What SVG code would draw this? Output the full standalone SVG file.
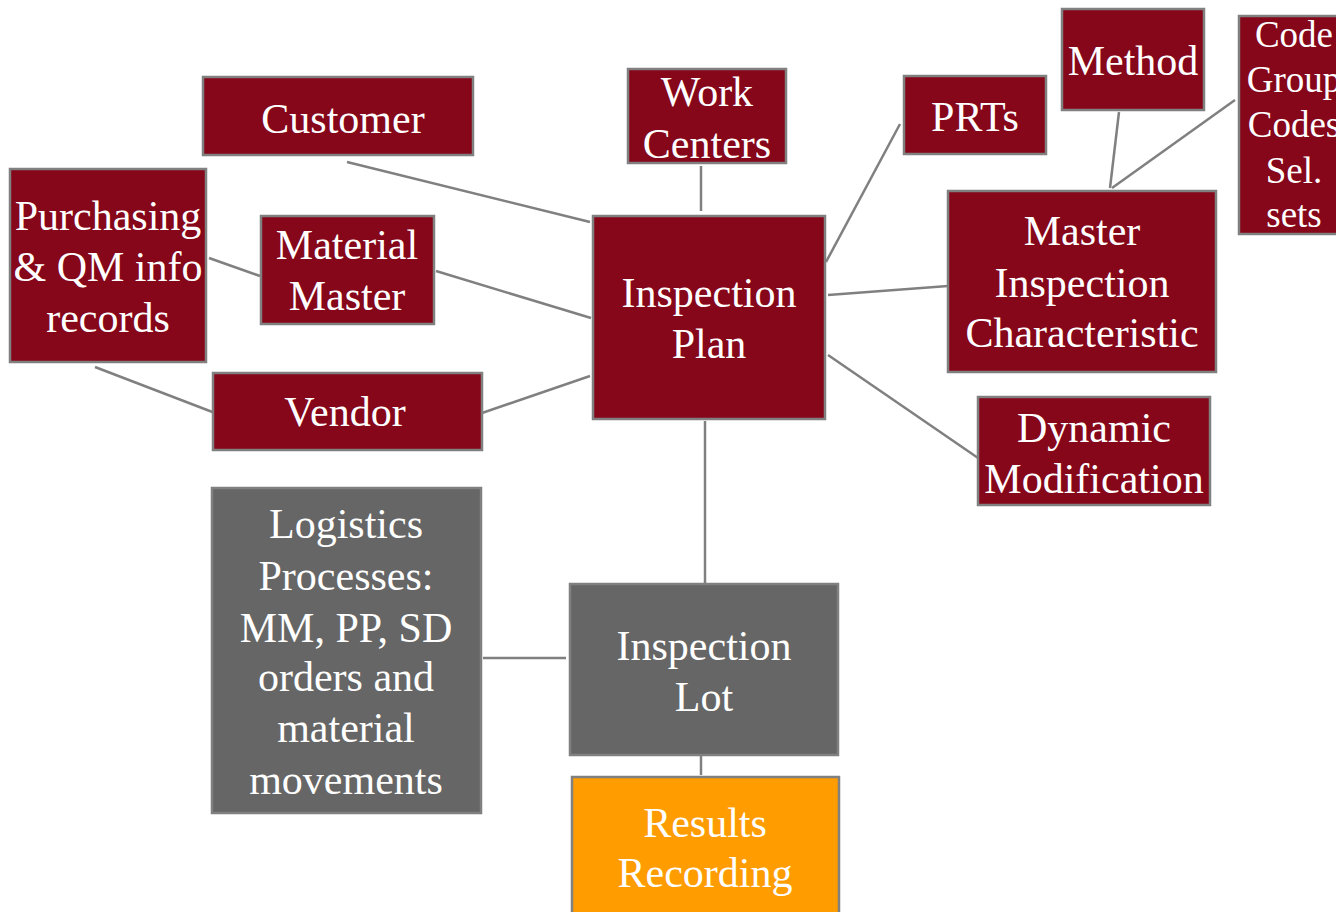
<svg xmlns="http://www.w3.org/2000/svg" width="1336" height="912" viewBox="0 0 1336 912">
<style>
.red{fill:#86061A;stroke:#808080;stroke-width:2.5}
.gray{fill:#666666;stroke:#808080;stroke-width:2.5}
.orange{fill:#FF9C00;stroke:#808080;stroke-width:2.5}
text{font-size:42px;fill:#FFFFFF;text-anchor:middle}
.sm{font-size:37px}
#connectors line{stroke:#808080;stroke-width:2.5}
</style>
<rect width="1336" height="912" fill="#FFFFFF"/>
<g id="connectors">
<line x1="347" y1="162" x2="590" y2="222"/>
<line x1="701" y1="166" x2="701" y2="211"/>
<line x1="436" y1="271" x2="591" y2="318"/>
<line x1="209" y1="258" x2="260" y2="276"/>
<line x1="95" y1="367" x2="215" y2="413"/>
<line x1="482" y1="413" x2="590" y2="376"/>
<line x1="900" y1="124" x2="826" y2="262"/>
<line x1="828" y1="295" x2="948" y2="286"/>
<line x1="828" y1="355" x2="981" y2="460"/>
<line x1="1119" y1="112" x2="1110" y2="188"/>
<line x1="1235" y1="100" x2="1112" y2="188"/>
<line x1="705" y1="421" x2="705" y2="583"/>
<line x1="483" y1="658" x2="566" y2="658"/>
<line x1="701" y1="745" x2="701" y2="775"/>
</g>
<g font-family="'Liberation Serif', 'Times New Roman', serif">
<g id="customer"><rect class="red" x="203" y="77" width="270" height="78"/><text x="343" y="133">Customer</text></g>
<g id="work-centers"><rect class="red" x="628" y="69" width="158" height="94"/><text x="707" y="106">Work</text><text x="707" y="158">Centers</text></g>
<g id="prts"><rect class="red" x="904" y="76" width="142" height="78"/><text x="975" y="131">PRTs</text></g>
<g id="method"><rect class="red" x="1062" y="9" width="142" height="101"/><text x="1133" y="75">Method</text></g>
<g id="code-group"><rect class="red" x="1239" y="16" width="110" height="218"/><text class="sm" x="1294" y="47">Code</text><text class="sm" x="1294" y="92">Group</text><text class="sm" x="1294" y="137">Codes</text><text class="sm" x="1294" y="183">Sel.</text><text class="sm" x="1294" y="227">sets</text></g>
<g id="purchasing"><rect class="red" x="10" y="169" width="196" height="193"/><text x="108" y="230">Purchasing</text><text x="108" y="281">&amp; QM info</text><text x="108" y="332">records</text></g>
<g id="material-master"><rect class="red" x="261" y="216" width="173" height="108"/><text x="347" y="259">Material</text><text x="347" y="310">Master</text></g>
<g id="inspection-plan"><rect class="red" x="593" y="216" width="232" height="203"/><text x="709" y="307">Inspection</text><text x="709" y="358">Plan</text></g>
<g id="mic"><rect class="red" x="948" y="191" width="268" height="181"/><text x="1082" y="245">Master</text><text x="1082" y="297">Inspection</text><text x="1082" y="347">Characteristic</text></g>
<g id="vendor"><rect class="red" x="213" y="373" width="269" height="77"/><text x="345" y="426">Vendor</text></g>
<g id="dynamic-modification"><rect class="red" x="978" y="397" width="232" height="108"/><text x="1094" y="442">Dynamic</text><text x="1094" y="493">Modification</text></g>
<g id="logistics"><rect class="gray" x="212" y="488" width="269" height="325"/><text x="346" y="538">Logistics</text><text x="346" y="590">Processes:</text><text x="346" y="642">MM, PP, SD</text><text x="346" y="691">orders and</text><text x="346" y="742">material</text><text x="346" y="794">movements</text></g>
<g id="inspection-lot"><rect class="gray" x="570" y="584" width="268" height="171"/><text x="704" y="660">Inspection</text><text x="704" y="711">Lot</text></g>
<g id="results-recording"><rect class="orange" x="572" y="777" width="267" height="150"/><text x="705" y="837">Results</text><text x="705" y="887">Recording</text></g>
</g>
</svg>
